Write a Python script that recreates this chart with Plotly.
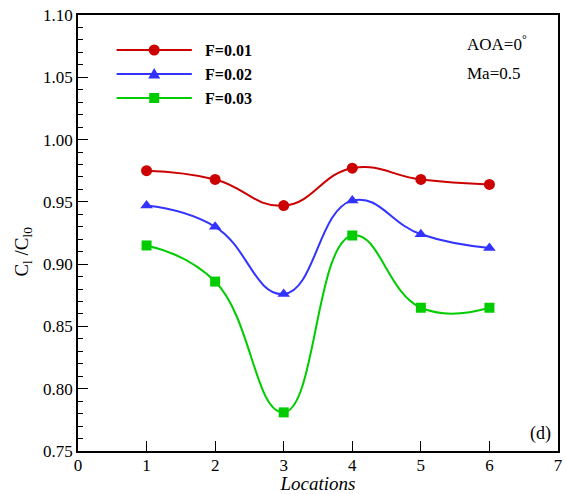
import plotly.graph_objects as go

locations = [1, 2, 3, 4, 5, 6]
f001 = [0.975, 0.968, 0.947, 0.977, 0.968, 0.964]
f002 = [0.947, 0.930, 0.876, 0.951, 0.924, 0.913]
f003 = [0.915, 0.886, 0.781, 0.923, 0.865, 0.865]
series_names = ["F=0.01", "F=0.02", "F=0.03"]
colors = ["#CC0000", "#3333FF", "#00CC00"]
symbols = ["circle", "triangle-up", "square"]
x_ticks = [0, 1, 2, 3, 4, 5, 6, 7]
y_ticks = [0.75, 0.80, 0.85, 0.90, 0.95, 1.00, 1.05, 1.10]

FONT = "Liberation Serif, Times New Roman, serif"

fig = go.Figure()
for name, vals, c, s in zip(series_names, [f001, f002, f003], colors, symbols):
    fig.add_trace(go.Scatter(
        x=locations, y=vals, name=name, mode="lines+markers",
        line=dict(color=c, width=2, shape="spline", smoothing=1.3),
        marker=dict(symbol=s, size=11 if s != "square" else 10, color=c),
        showlegend=False, hoverinfo="skip",
    ))

# manual legend (decoration) in paper coords
L, R, T, B = 78, 563, 15, 451
W, H = R - L, B - T
def px(x):
    return (x - L) / W
def py(y):
    return 1 - (y - T) / H

shapes = []
annotations = []
rows = [50, 74, 98]
for i, (name, c, s) in enumerate(zip(series_names, colors, symbols)):
    yy = py(rows[i])
    shapes.append(dict(type="line", xref="paper", yref="paper",
                       x0=px(117), x1=px(193), y0=yy, y1=yy,
                       line=dict(color=c, width=2)))
    common = dict(xref="paper", yref="paper", xsizemode="pixel", ysizemode="pixel",
                  xanchor=px(155), yanchor=yy, fillcolor=c, line=dict(color=c, width=0))
    if s == "circle":
        shapes.append(dict(type="circle", x0=-5.5, x1=5.5, y0=-5.5, y1=5.5, **common))
    elif s == "triangle-up":
        shapes.append(dict(type="path", path="M-6,-4.5 L6,-4.5 L0,6 Z", **common))
    else:
        shapes.append(dict(type="rect", x0=-5, x1=5, y0=-5, y1=5, **common))
    annotations.append(dict(text="<b>%s</b>" % name, xref="paper", yref="paper",
                            x=px(204), y=yy, xanchor="left", yanchor="middle",
                            showarrow=False, font=dict(family=FONT, size=16, color="black")))

annotations.append(dict(text="AOA=0<sup>°</sup>", xref="paper", yref="paper",
                        x=px(469), y=py(43), xanchor="left", yanchor="middle",
                        showarrow=False, font=dict(family=FONT, size=17, color="black")))
annotations.append(dict(text="Ma=0.5", xref="paper", yref="paper",
                        x=px(469), y=py(73), xanchor="left", yanchor="middle",
                        showarrow=False, font=dict(family=FONT, size=17, color="black")))
annotations.append(dict(text="(d)", xref="paper", yref="paper",
                        x=px(558), y=py(433), xanchor="right", yanchor="middle",
                        showarrow=False, font=dict(family=FONT, size=18, color="black")))
annotations.append(dict(text="C<sub>l</sub> /C<sub>l0</sub>", xref="paper", yref="paper",
                        x=px(22), y=py(252), xanchor="center", yanchor="middle",
                        textangle=-90, showarrow=False,
                        font=dict(family=FONT, size=19, color="black")))

tickfont = dict(family=FONT, size=17, color="black")
fig.update_layout(
    width=566, height=494,
    margin=dict(l=L, r=566 - R, t=T, b=494 - B),
    paper_bgcolor="white", plot_bgcolor="white",
    font=dict(family=FONT, size=17, color="black"),
    shapes=shapes, annotations=annotations,
    xaxis=dict(range=[0, 7], tickvals=x_ticks, ticktext=[str(v) for v in x_ticks],
               tickfont=tickfont, ticklabelstandoff=-2,
               ticks="inside", ticklen=10, tickwidth=1.2, tickcolor="black",
               showline=True, linecolor="black", linewidth=1.5, mirror=True,
               showgrid=False, zeroline=False,
               title=dict(text="<i>Locations</i>", font=dict(family=FONT, size=19), standoff=1)),
    yaxis=dict(range=[0.75, 1.10], tickvals=y_ticks, ticktext=["%.2f" % v for v in y_ticks],
               tickfont=tickfont,
               ticks="inside", ticklen=10, tickwidth=1.2, tickcolor="black",
               minor=dict(dtick=0.01, ticks="inside", ticklen=5, tickcolor="black", tickwidth=1),
               showline=True, linecolor="black", linewidth=1.5, mirror=True,
               showgrid=False, zeroline=False),
)

fig.write_html("out.html", config={"displayModeBar": False},
               post_script="document.body.style.margin='0';document.body.style.overflow='hidden';")
